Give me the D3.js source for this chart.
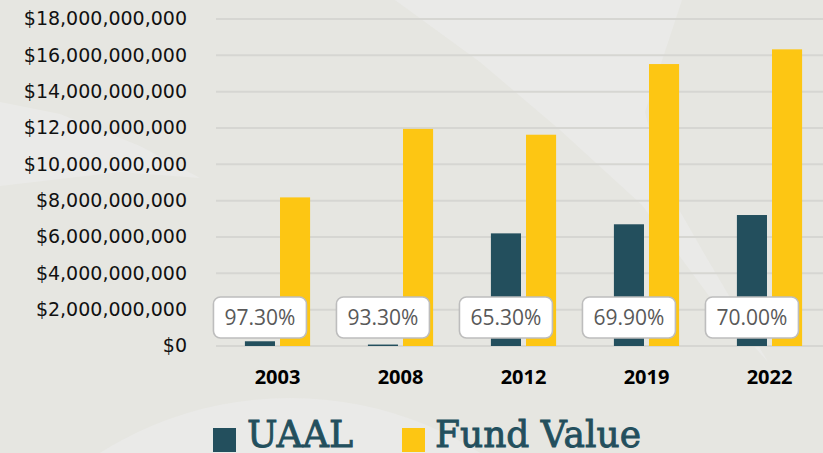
<!DOCTYPE html>
<html>
<head>
<meta charset="utf-8">
<script src="https://cdn.jsdelivr.net/npm/d3@7"></script>
<style>
  html, body { margin: 0; padding: 0; background: #e6e6e1; }
  svg { display: block; }
</style>
</head>
<body>
<svg id="chart" width="823" height="453"></svg>
<script>
// chart values
const years = ['2003', '2008', '2012', '2019', '2022'];
const uaal = [0.26e9, 0.08e9, 6.2e9, 6.7e9, 7.21e9];
const fundValue = [8.18e9, 11.95e9, 11.63e9, 15.52e9, 16.33e9];
const fundedRatio = ['97.30%', '93.30%', '65.30%', '69.90%', '70.00%'];
const yTicks = [0, 2e9, 4e9, 6e9, 8e9, 10e9, 12e9, 14e9, 16e9, 18e9];
const seriesNames = ['UAAL', 'Fund Value'];

const width = 823, height = 453;
const colors = { 'UAAL': '#234f5d', 'Fund Value': '#fdc613' };

const svg = d3.select('#chart');

// background decorations
svg.append('rect').attr('width', width).attr('height', height).attr('fill', '#e6e6e1');
const deco = svg.append('g').attr('fill', '#eaeae8');
deco.append('path')
  .attr('d', 'M395,0 L682,0 L645,112 L662,180 L705,255 L768,362 L712,300 L642,205 L560,130 L480,62 Z');
deco.append('path')
  .attr('d', 'M0,102 L60,114 L140,146 L200,178 L120,172 L0,186 Z');
deco.append('circle').attr('cx', 290).attr('cy', 754).attr('r', 356);

const x0 = d3.scaleBand()
  .domain(years)
  .range([216, 831])
  .paddingInner(0.47)
  .paddingOuter(0.235);

const x1 = d3.scaleBand()
  .domain(seriesNames)
  .range([0, x0.bandwidth()])
  .paddingInner(0.143);

const y = d3.scaleLinear()
  .domain([0, 18e9])
  .range([346, 19]);

// gridlines
svg.append('g')
  .selectAll('line')
  .data(yTicks)
  .enter()
  .append('line')
  .attr('x1', 216)
  .attr('x2', width)
  .attr('y1', d => y(d))
  .attr('y2', d => y(d))
  .attr('stroke', '#d6d6d2')
  .attr('stroke-width', 2);

// y axis labels
const fmt = d3.format('$,');
svg.append('g')
  .selectAll('text')
  .data(yTicks)
  .enter()
  .append('text')
  .attr('x', 187)
  .attr('y', d => y(d))
  .attr('dy', '0.33em')
  .attr('text-anchor', 'end')
  .attr('font-family', '"DejaVu Sans", sans-serif')
  .attr('font-size', 19)
  .attr('fill', '#111')
  .text(d => fmt(d));

// bars
const rows = years.map((yr, i) => ({ year: yr, values: [uaal[i], fundValue[i]], ratio: fundedRatio[i] }));

const groups = svg.append('g')
  .selectAll('g')
  .data(rows)
  .enter()
  .append('g')
  .attr('transform', d => `translate(${x0(d.year)},0)`);

groups.selectAll('rect')
  .data(d => d.values.map((v, k) => ({ key: seriesNames[k], value: v })))
  .enter()
  .append('rect')
  .attr('x', d => x1(d.key))
  .attr('y', d => y(d.value))
  .attr('width', x1.bandwidth())
  .attr('height', d => y(0) - y(d.value))
  .attr('fill', d => colors[d.key]);

// funded ratio labels
const boxW = 93, boxH = 41;
const lbl = groups.append('g')
  .attr('transform', d => `translate(${x1('UAAL') + x1.bandwidth() / 2},${y(0) - 49})`);

lbl.append('rect')
  .attr('x', -boxW / 2)
  .attr('y', 0)
  .attr('width', boxW)
  .attr('height', boxH)
  .attr('rx', 7)
  .attr('fill', '#fff')
  .attr('stroke', '#bdbdbd')
  .attr('stroke-width', 1.6);

lbl.append('text')
  .attr('x', 0)
  .attr('y', boxH / 2)
  .attr('dy', '0.36em')
  .attr('text-anchor', 'middle')
  .attr('font-family', '"Open Sans", sans-serif')
  .attr('font-size', 21)
  .attr('fill', '#595959')
  .text(d => d.ratio);

// x axis labels
svg.append('g')
  .selectAll('text')
  .data(years)
  .enter()
  .append('text')
  .attr('x', d => x0(d) + x0.bandwidth() / 2)
  .attr('y', 377)
  .attr('dy', '0.36em')
  .attr('text-anchor', 'middle')
  .attr('font-family', '"Open Sans", sans-serif')
  .attr('font-weight', 'bold')
  .attr('font-size', 20)
  .attr('fill', '#000')
  .text(d => d);

// legend
const legendItems = [
  { name: 'UAAL', sx: 213, tx: 247, tw: 106 },
  { name: 'Fund Value', sx: 402, tx: 435, tw: 206 }
];
const legend = svg.append('g');
legend.selectAll('rect')
  .data(legendItems)
  .enter()
  .append('rect')
  .attr('x', d => d.sx)
  .attr('y', 428)
  .attr('width', 23)
  .attr('height', 24)
  .attr('fill', d => colors[d.name]);

legend.selectAll('text')
  .data(legendItems)
  .enter()
  .append('text')
  .attr('x', d => d.tx)
  .attr('y', 447)
  .attr('font-family', '"DejaVu Serif", serif')
  .attr('font-size', 38)
  .attr('textLength', d => d.tw)
  .attr('lengthAdjust', 'spacingAndGlyphs')
  .attr('fill', '#234f5d')
  .attr('stroke', '#234f5d')
  .attr('stroke-width', 0.9)
  .text(d => d.name);
</script>
</body>
</html>
